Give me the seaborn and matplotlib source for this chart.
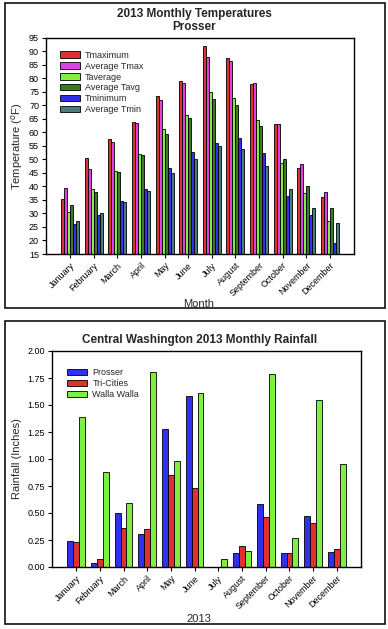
import matplotlib
matplotlib.use('Agg')
import matplotlib.pyplot as plt
import seaborn as sns
import pandas as pd
from matplotlib.patches import Rectangle

meses = ['January', 'February', 'March', 'April', 'May', 'June', 'July',
         'August', 'September', 'October', 'November', 'December']

# Temperaturas Prosser 2013 (°F)
tmaximum = [35.5, 50.6, 57.7, 64.0, 73.6, 78.9, 92.2, 87.7, 78.1, 63.0, 47.0, 36.2]
avg_tmax = [39.6, 46.5, 56.6, 63.6, 72.1, 78.5, 88.1, 86.6, 78.4, 63.0, 48.4, 38.1]
taverage = [30.5, 39.2, 45.8, 52.1, 61.4, 66.6, 75.1, 72.6, 64.7, 48.8, 37.7, 27.3]
avg_tavg = [33.2, 38.1, 45.4, 51.7, 59.6, 65.4, 72.5, 70.3, 62.5, 50.3, 40.0, 32.2]
tminimum = [26.2, 29.6, 34.7, 39.2, 47.0, 52.9, 56.2, 57.8, 52.5, 36.6, 29.6, 19.1]
avg_tmin = [27.3, 30.0, 34.3, 38.5, 45.1, 50.3, 55.1, 54.0, 47.7, 38.9, 32.2, 26.6]

series_temp = ['Tmaximum', 'Average Tmax', 'Taverage', 'Average Tavg', 'Tminimum', 'Average Tmin']
colores_temp = ['#E03030', '#E040E8', '#80F040', '#3C7A28', '#3030F0', '#4A7C7C']

# Lluvia 2013 (pulgadas)
prosser = [0.24, 0.04, 0.50, 0.31, 1.28, 1.58, 0.0, 0.13, 0.58, 0.13, 0.47, 0.14]
tri_cities = [0.23, 0.07, 0.36, 0.35, 0.85, 0.73, 0.0, 0.19, 0.46, 0.13, 0.41, 0.17]
walla_walla = [1.39, 0.88, 0.59, 1.81, 0.98, 1.61, 0.07, 0.15, 1.79, 0.27, 1.55, 0.95]

series_lluvia = ['Prosser', 'Tri-Cities', 'Walla Walla']
colores_lluvia = ['#3030F0', '#E03030', '#80F040']

sns.set_style('white')
plt.rcParams['font.family'] = ['Liberation Sans', 'DejaVu Sans']

dfTemp = pd.DataFrame({'mes': meses * 6,
                       'serie': [s for s in series_temp for _ in meses],
                       'valor': tmaximum + avg_tmax + taverage + avg_tavg + tminimum + avg_tmin})
dfLluvia = pd.DataFrame({'mes': meses * 3,
                         'serie': [s for s in series_lluvia for _ in meses],
                         'valor': prosser + tri_cities + walla_walla})

fig = plt.figure(figsize=(3.88, 6.29), dpi=100)

# marcos de los paneles
for y0, y1 in [(3, 308), (321, 624)]:
    fig.patches.append(Rectangle((5 / 388, 1 - y1 / 629), 380 / 388, (y1 - y0) / 629,
                                 transform=fig.transFigure, fill=False,
                                 edgecolor='#111111', linewidth=1.2))

def estilo(ax):
    for s in ax.spines.values():
        s.set_visible(True)
        s.set_color('black')
        s.set_linewidth(1.0)
    ax.tick_params(axis='both', direction='out', length=3, width=0.8,
                   labelsize=6.5, colors='black', pad=2,
                   bottom=True, left=True)
    ax.set_xlim(-1.02, 12.02)
    ax.set_xticks(range(12))
    ax.set_xticklabels(meses, rotation=45, ha='right', rotation_mode='anchor', fontsize=6.5)

leyenda = dict(loc='upper left', frameon=False, fontsize=6.5, handlelength=2.2,
               handleheight=0.7, labelspacing=0.22, handletextpad=0.55,
               borderaxespad=0, borderpad=0)

# Temperaturas
ax1 = fig.add_axes([46 / 388, 1 - 254 / 629, 308 / 388, 216 / 629])
sns.barplot(data=dfTemp, x='mes', y='valor', hue='serie', palette=colores_temp,
            width=0.76, edgecolor='black', linewidth=0.6, ax=ax1, saturation=1)
estilo(ax1)
ax1.set_ylim(15, 95)
ax1.set_yticks(range(15, 96, 5))
ax1.set_xlabel('Month', fontsize=8)
ax1.xaxis.set_label_coords(0.497, -0.208)
ax1.set_ylabel('Temperature ($^{o}$F)', fontsize=8, labelpad=3)
ax1.legend(bbox_to_anchor=(0.045, 0.942), **leyenda)
fig.text(0.5, 1 - 14 / 629, '2013 Monthly Temperatures', ha='center', va='center',
         fontsize=8.5, fontweight='bold')
fig.text(0.5, 1 - 27.5 / 629, 'Prosser', ha='center', va='center',
         fontsize=8.5, fontweight='bold')

# Lluvia
ax2 = fig.add_axes([52 / 388, 1 - 567 / 629, 309 / 388, 216 / 629])
sns.barplot(data=dfLluvia, x='mes', y='valor', hue='serie', palette=colores_lluvia,
            width=0.74, edgecolor='black', linewidth=0.6, ax=ax2, saturation=1)
estilo(ax2)
ax2.set_ylim(0, 2.0)
ax2.set_yticks([0, 0.25, 0.5, 0.75, 1.0, 1.25, 1.5, 1.75, 2.0])
ax2.set_yticklabels(['%.2f' % v for v in ax2.get_yticks()])
ax2.set_xlabel('2013', fontsize=8)
ax2.xaxis.set_label_coords(0.476, -0.218)
ax2.set_ylabel('Rainfall (Inches)', fontsize=8, labelpad=4)
ax2.legend(bbox_to_anchor=(0.05, 0.92), **leyenda)
fig.text(200 / 388, 1 - 340 / 629, 'Central Washington 2013 Monthly Rainfall',
         ha='center', va='center', fontsize=8.5, fontweight='bold')

plt.savefig('out.png', dpi=100)
